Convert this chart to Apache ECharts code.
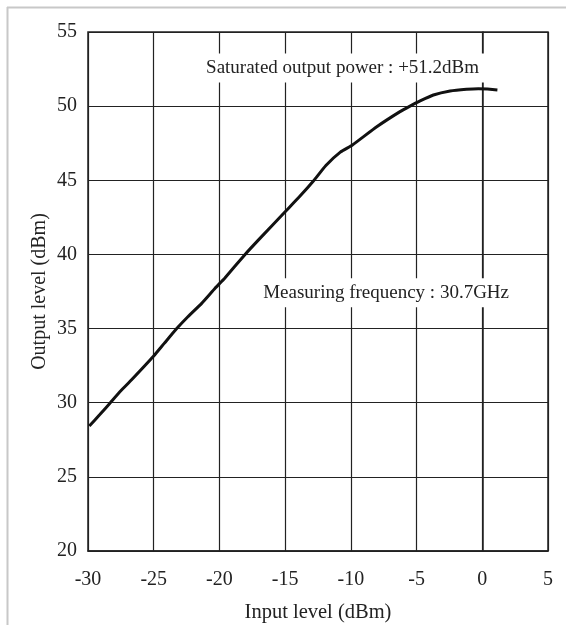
<!DOCTYPE html>
<html>
<head>
<meta charset="utf-8">
<script src="https://cdn.jsdelivr.net/npm/echarts@6/dist/echarts.min.js"></script>
<style>
html,body{margin:0;padding:0;background:#fff;}
#chart{width:566px;height:625px;}
</style>
</head>
<body>
<div id="chart"></div>
<script>
// Data
const inputLevel = [-29.9, -29.1, -28.3, -27.5, -26.7, -25.0, -24.2, -23.25, -22.4, -21.35, -20.33, -19.6, -18.05, -16.9, -15.0, -13.9, -12.85, -11.9, -10.8, -9.88, -8.03, -6.26, -5.5, -4.73, -3.72, -2.45, -1.2, -0.3, 0.4, 1.15];
const outputLevel = [28.43, 29.2, 30.0, 30.8, 31.53, 33.15, 34.0, 35.0, 35.8, 36.7, 37.72, 38.4, 40.0, 41.1, 42.88, 43.9, 44.95, 46.0, 46.9, 47.38, 48.61, 49.63, 50.0, 50.35, 50.75, 51.02, 51.14, 51.18, 51.15, 51.09];
const xTicks = [-30, -25, -20, -15, -10, -5, 0, 5];
const yTicks = [20, 25, 30, 35, 40, 45, 50, 55];
const annotations = [
  {text: 'Saturated output power : +51.2dBm', x: -10.63, y: 52.57},
  {text: 'Measuring frequency : 30.7GHz', x: -7.32, y: 37.42}
];

const FONT = "'Liberation Serif', 'DejaVu Serif', serif";
const INK = '#222';
const chart = echarts.init(document.getElementById('chart'), null, {renderer: 'canvas'});
const seriesData = inputLevel.map((x, i) => [x, outputLevel[i]]);

chart.setOption({
  backgroundColor: '#fff',
  animation: false,
  grid: {left: 88, right: 18, top: 32, bottom: 74, containLabel: false, outerBoundsMode: 'none',
         show: true, borderColor: INK, borderWidth: 1.5, backgroundColor: 'transparent'},
  xAxis: {
    type: 'value', min: xTicks[0], max: xTicks[xTicks.length - 1], interval: 5,
    name: 'Input level (dBm)', nameLocation: 'middle', nameGap: 51, nameMoveOverlap: false,
    nameTextStyle: {fontFamily: FONT, fontSize: 20.5, color: INK},
    axisLine: {show: true, lineStyle: {color: INK, width: 1.5}},
    axisTick: {show: false},
    axisLabel: {fontFamily: FONT, fontSize: 20, color: INK, margin: 19},
    splitLine: {show: true, lineStyle: {color: INK, width: 1.2}}
  },
  yAxis: {
    type: 'value', min: yTicks[0], max: yTicks[yTicks.length - 1], interval: 5,
    name: 'Output level (dBm)', nameLocation: 'middle', nameGap: 38, nameRotate: 90, nameMoveOverlap: false,
    nameTextStyle: {fontFamily: FONT, fontSize: 20, color: INK},
    axisLine: {show: true, lineStyle: {color: INK, width: 1.5}},
    axisTick: {show: false},
    axisLabel: {fontFamily: FONT, fontSize: 20, color: INK, margin: 11},
    splitLine: {show: true, lineStyle: {color: INK, width: 1.2}}
  },
  series: [{
    type: 'line', data: seriesData, showSymbol: false, smooth: 0.15,
    lineStyle: {color: '#111', width: 3}, z: 5
  }]
});

const graphics = annotations.map(a => {
  const p = chart.convertToPixel({gridIndex: 0}, [a.x, a.y]);
  return {
    type: 'text', x: p[0], y: p[1], z: 10,
    style: {
      text: a.text, font: '19px ' + FONT, fill: INK,
      align: 'center', verticalAlign: 'middle',
      backgroundColor: '#fff', padding: [5, 8, 5, 8]
    }
  };
});
graphics.push(
  {type: 'line', shape: {x1: 7, y1: 7.5, x2: 566, y2: 7.5}, style: {stroke: '#c8c8c8', lineWidth: 2}},
  {type: 'line', shape: {x1: 7.5, y1: 7, x2: 7.5, y2: 625}, style: {stroke: '#c8c8c8', lineWidth: 2}}
);
chart.setOption({graphic: graphics});
</script>
</body>
</html>
